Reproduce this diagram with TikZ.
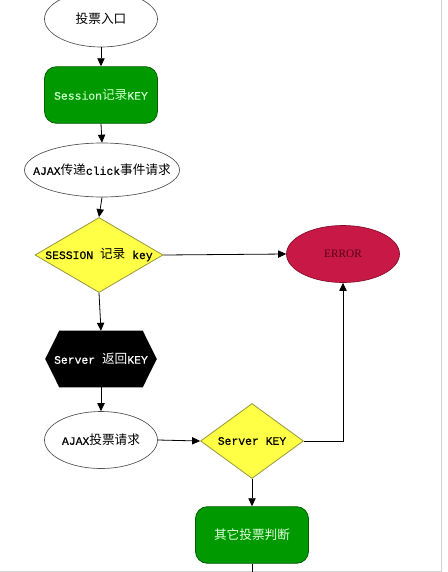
\documentclass[tikz,border=0pt]{standalone}
\usepackage{fontspec}
\setmainfont{Liberation Mono}[Scale=0.9,FakeBold=0.4]
\newfontfamily\cjk{Noto Sans CJK SC}
\newfontfamily\errfont{Liberation Serif}
\usetikzlibrary{shapes.geometric,arrows.meta}
\definecolor{boxgreen}{RGB}{0,153,0}
\definecolor{greenline}{RGB}{0,95,0}
\definecolor{greentext}{RGB}{200,255,200}
\definecolor{diayellow}{RGB}{255,255,70}
\definecolor{dialine}{RGB}{150,150,60}
\definecolor{errred}{RGB}{200,25,70}
\definecolor{errline}{RGB}{130,10,40}
\definecolor{errtext}{RGB}{90,0,25}
\definecolor{ovalgray}{RGB}{80,80,80}
\tikzset{every node/.style={font=\fontsize{9.5}{11}\selectfont, inner sep=0pt},
  flow/.style={draw=black, line width=0.6pt, -{Triangle[length=6pt,width=5.5pt]}},
  oval/.style={ellipse, draw=ovalgray, line width=0.5pt, fill=white, minimum width=84.75pt, minimum height=42.75pt},
  greenbox/.style={rectangle, rounded corners=9pt, draw=greenline, fill=boxgreen, line width=0.6pt, minimum width=84.75pt, minimum height=42.5pt},
  decision/.style={diamond, draw=dialine, fill=diayellow, line width=0.6pt, minimum height=56.25pt},
  hexbox/.style={rectangle, minimum width=83.25pt, minimum height=42pt}}

\begin{document}
\begin{tikzpicture}[x=0.75pt,y=-0.75pt]
  \useasboundingbox (0,0) rectangle (448,572);
  \clip (0,0) rectangle (448,572);
  \draw[gray!35, line width=0.75pt] (441,0) -- (441,571.5) -- (0,571.5);

  \node[oval, minimum height=42pt] (entry) at (101,19) {\cjk 投票入口};
  \node[greenbox, text=greentext] (session) at (101,95) {Session{\cjk 记录}KEY};
  \node[oval, minimum width=116.25pt, minimum height=40.5pt] (click) at (102,170) {};
  \node (clicktext) at (click) {AJAX{\cjk 传递}click{\cjk 事件请求}};
  \node[decision, minimum width=96pt] (sesskey) at (99,255) {};
  \node (sesskeytext) at (sesskey) {SESSION {\cjk 记录} key};
  \node[hexbox] (retkey) at (101,359) {};
  \fill (retkey.west) -- ([xshift=10.5pt]retkey.north west) -- ([xshift=-10.5pt]retkey.north east)
     -- (retkey.east) -- ([xshift=-10.5pt]retkey.south east) -- ([xshift=10.5pt]retkey.south west) -- cycle;
  \node[white] (retkeytext) at (retkey) {Server {\cjk 返回}KEY};
  \node[oval] (vote) at (101,440) {AJAX{\cjk 投票请求}};
  \node[decision, minimum width=77.25pt] (servkey) at (252,441) {};
  \node (servkeytext) at (servkey) {Server KEY};
  \node[greenbox, text=greentext!60!white] (other) at (252,535) {\cjk 其它投票判断};
  \node[oval, draw=errline, fill=errred, text=errtext, font=\errfont\fontsize{8.5}{10}\selectfont] (error) at (343,254) {ERROR};
  \coordinate (exit) at (252,580);

  \draw[flow] (entry.south) -- (session.north);
  \draw[flow] (session.south) -- (click.north);
  \draw[flow] (click.south) -- (sesskey.north);
  \draw[flow] (sesskey.south) -- (retkey.north);
  \draw[flow] (retkey.south) -- (vote.north);
  \draw[flow] (vote.east) -- (servkey.west);
  \draw[flow] (servkey.south) -- (other.north);
  \draw[flow] (sesskey.east) -- (error.west);
  \draw[flow] (servkey.east) -| (error.south);
  \draw[line width=0.6pt] (other.south) -- (exit);
\end{tikzpicture}
\end{document}
